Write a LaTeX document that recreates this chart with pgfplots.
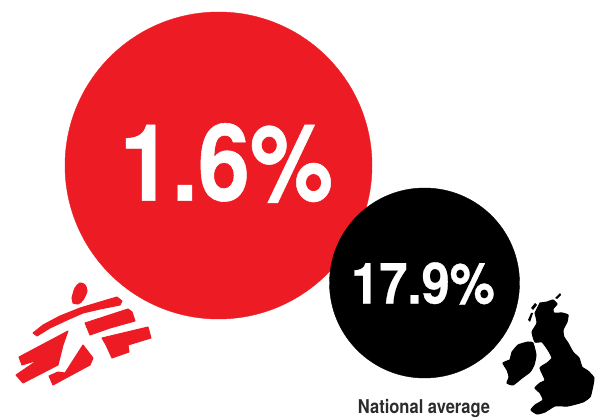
\documentclass[border=0pt]{standalone}
\usepackage{fontspec}
\setmainfont{TeX Gyre Heros}
\newfontfamily\heavyfont{TeX Gyre Heros}[BoldFeatures={FakeBold=0.5}]
\usepackage{pgfplots}
\pgfplotsset{compat=1.18}
\definecolor{msfred}{HTML}{ED1C24}
\definecolor{labelgrey}{HTML}{2B2B2B}
\begin{document}
\begin{tikzpicture}
\begin{axis}[
	width=600pt,height=417pt,scale only axis,
	xmin=0,xmax=600,ymin=0,ymax=417,y dir=reverse,
	set layers=standard,
	hide axis,clip=false]
\path (axis cs:0,0) (axis cs:600,417);
% circles
\addplot[only marks,mark=*,mark size=153.5pt,msfred,mark options={draw=none,fill=msfred}] coordinates {(218.5,165.5)};
\addplot[only marks,mark=*,mark size=95pt,black,mark options={draw=none,fill=black}] coordinates {(424.5,283)};
% logo
\addplot[fill=msfred,draw=msfred,line width=1pt,smooth,tension=0.5] coordinates {(72,298) (75,288) (80,283) (85,285) (87,291) (83,300) (78,304) (73,303)} -- cycle;
\addplot[fill=msfred,draw=msfred,line width=1pt,line join=round] coordinates {(33,333) (43,325) (60,316) (80,308) (100,302) (117,297) (122,301) (120,305) (100,309) (83,313) (67,320) (50,328) (37,336)} -- cycle;
\addplot[fill=msfred,draw=msfred,line width=1pt,line join=round] coordinates {(85,323) (128,309) (132,312) (135,321) (110,328) (90,335)} -- cycle;
\addplot[fill=msfred,draw=msfred,line width=1pt,line join=round] coordinates {(102,338) (148,327) (151,338) (128,345) (129,352) (112,358) (106,345)} -- cycle;
\addplot[fill=msfred,draw=msfred,line width=1pt,line join=round] coordinates {(19,357) (68,331) (63,345) (58,365) (23,383) (16,375) (38,360) (22,365)} -- cycle;
\addplot[fill=msfred,draw=msfred,line width=1pt,line join=round] coordinates {(49,376) (58,372) (65,373) (83,345) (93,358) (90,365) (53,385)} -- cycle;
% map
\addplot[fill=black,draw=black,line width=1pt,smooth,tension=0.3] coordinates {(540,303) (547,302) (553,300) (557,304) (553,309) (554,313) (562,313) (568,315) (567,322) (563,330) (564,337) (568,343) (573,352) (579,358) (582,367) (588,371) (594,378) (592,390) (590,397) (583,402) (568,406) (555,406) (545,412) (537,414) (531,410) (535,405) (543,400) (540,393) (535,388) (540,383) (545,380) (540,368) (547,363) (552,358) (548,350) (542,342) (535,342) (532,332) (537,323) (535,313)} -- cycle;
\addplot[fill=black,draw=black,line width=1pt,smooth,tension=0.3] coordinates {(512,352) (518,345) (528,342) (533,343) (536,355) (534,365) (530,372) (522,378) (513,385) (507,383) (509,377) (507,370) (503,363) (510,360)} -- cycle;
\addplot[fill=black,draw=none] coordinates {(555,298) (560,293) (561,295) (557,299)} -- cycle;
\addplot[fill=black,draw=none] coordinates {(531,308) (535,303) (537,305) (533,310)} -- cycle;
\addplot[fill=black,draw=none] coordinates {(528,320) (531,313) (533,313) (530,322)} -- cycle;
% labels
\begin{pgfonlayer}{axis foreground}
\node[white,xscale=0.875,inner sep=0pt] at (axis cs:226.5,163) {\fontsize{107}{107}\selectfont\heavyfont\bfseries 1.6\%};
\node[white,xscale=0.89,inner sep=0pt] at (axis cs:423,283.5) {\fontsize{57}{57}\selectfont\heavyfont\bfseries 17.9\%};
\node[labelgrey,xscale=0.87,inner sep=0pt] at (axis cs:424,408) {\fontsize{19}{19}\selectfont\bfseries National average};
\end{pgfonlayer}
\end{axis}
\end{tikzpicture}
\end{document}
